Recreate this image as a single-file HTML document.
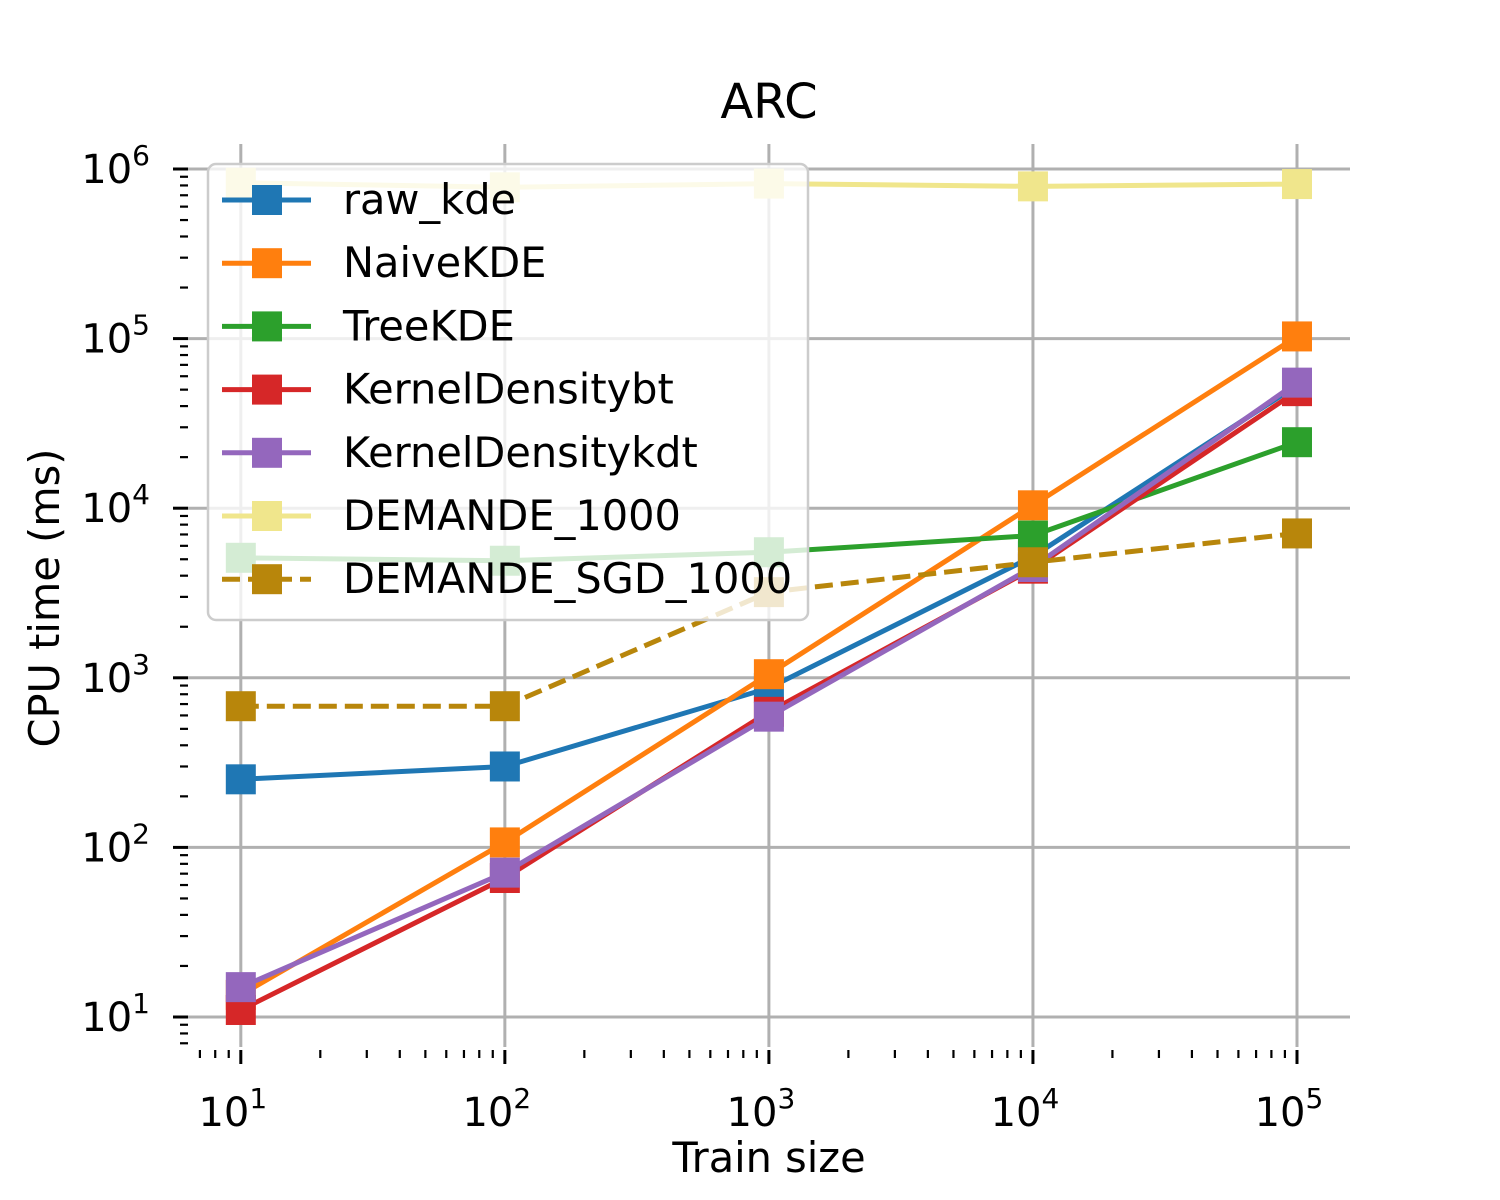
<!DOCTYPE html>
<html><head><meta charset="utf-8">
<style>
html,body{margin:0;padding:0;background:#fff;}
svg{display:block;font-family:"DejaVu Sans","Liberation Sans",sans-serif;}
</style></head>
<body>
<svg id="chart" width="1500" height="1200" viewBox="0 0 1500 1200" xmlns="http://www.w3.org/2000/svg">
<rect width="1500" height="1200" fill="#fff"/>
<text x="769" y="118" font-size="48" text-anchor="middle">ARC</text>
<g id="grid"></g>
<g id="ticks"></g>
<g id="series"></g>
<g id="legend"></g>
<text x="769" y="1172" font-size="41.5" text-anchor="middle">Train size</text>
<text transform="translate(59,598) rotate(-90)" font-size="41.5" text-anchor="middle">CPU time (ms)</text>
</svg>
<script>
const trainSizes = [10, 100, 1000, 10000, 100000];
const seriesNames = ["raw_kde","NaiveKDE","TreeKDE","KernelDensitybt","KernelDensitykdt","DEMANDE_1000","DEMANDE_SGD_1000"];
const rawKde = [252, 300, 870, 5200, 53000];
const naiveKde = [13.5, 107, 1050, 10400, 103000];
const treeKde = [5100, 4900, 5500, 6900, 24500];
const kdBt = [11, 66, 630, 4400, 49000];
const kdKdt = [15, 71, 590, 4500, 55000];
const demande = [830000, 780000, 820000, 790000, 815000];
const demandeSgd = [680, 680, 3200, 4800, 7100];
const xTickExps = [1,2,3,4,5];
const yTickExps = [1,2,3,4,5,6];

const colors = ["#1f77b4","#ff7f0e","#2ca02c","#d62728","#9467bd","#f0e68c","#b8860b"];
const allData = [rawKde, naiveKde, treeKde, kdBt, kdKdt, demande, demandeSgd];
const dashed = [false,false,false,false,false,false,true];

const NS = "http://www.w3.org/2000/svg";
const X0 = 188, X1 = 1350, Y0 = 1047, Y1 = 144;
const xmin = 0.8, xmax = 1 + (X1-241)/264;
const ymin = 1 - (Y0-1017)/169.6, ymax = 6 + (169-Y1)/169.6;
function xs(v){ return X0 + (Math.log10(v)-xmin)/(xmax-xmin)*(X1-X0); }
function ys(v){ return Y0 - (Math.log10(v)-ymin)/(ymax-ymin)*(Y0-Y1); }
function mk(tag, attrs, parent){ const e = document.createElementNS(NS, tag); for (const k in attrs) e.setAttribute(k, attrs[k]); parent.appendChild(e); return e; }

const grid = document.getElementById('grid');
const ticks = document.getElementById('ticks');
xTickExps.forEach(p => {
  const x = xs(Math.pow(10,p));
  const g = mk('line',{x1:x,x2:x,y1:Y1,y2:Y0,stroke:'#b0b0b0','stroke-width':3},grid);
  
  
  mk('line',{x1:x,x2:x,y1:1050,y2:1064,stroke:'#000','stroke-width':3},ticks);
  const t = mk('text',{x:x-8,y:1126,'font-size':40,'text-anchor':'middle'},ticks);
  
  
  t.innerHTML = '10<tspan dy="-18" font-size="28">'+p+'</tspan>';
});
for (let p=0;p<6;p++) for (let m=2;m<10;m++){
  const v = m*Math.pow(10,p); const lv=Math.log10(v);
  if (lv<xmin||lv>xmax) continue;
  const x = xs(v);
  mk('line',{x1:x,x2:x,y1:1050,y2:1058,stroke:'#000','stroke-width':2.2},ticks);
}
yTickExps.forEach(p => {
  const y = ys(Math.pow(10,p));
  const g = mk('line',{x1:X0,x2:X1,y1:y,y2:y,stroke:'#b0b0b0','stroke-width':3},grid);
  
  
  mk('line',{x1:173,x2:188,y1:y,y2:y,stroke:'#000','stroke-width':3},ticks);
  const t = mk('text',{x:150,y:y+14,'font-size':40,'text-anchor':'end'},ticks);
  
  
  t.innerHTML = '10<tspan dy="-18" font-size="28">'+p+'</tspan>';
});
for (let p=0;p<7;p++) for (let m=2;m<10;m++){
  const v = m*Math.pow(10,p); const lv=Math.log10(v);
  if (lv<ymin||lv>ymax) continue;
  const y = ys(v);
  mk('line',{x1:180,x2:188,y1:y,y2:y,stroke:'#000','stroke-width':2.2},ticks);
}

const series = document.getElementById('series');
allData.forEach((d,i) => {
  const g = mk('g',{},series);
  
  
  const pts = d.map((v,j)=>xs(trainSizes[j])+','+ys(v)).join(' ');
  const attrs = {points:pts,fill:'none',stroke:colors[i],'stroke-width':5,'stroke-linejoin':'round'};
  if (dashed[i]) attrs['stroke-dasharray']='18,8';
  mk('polyline',attrs,g);
  d.forEach((v,j)=>{
    const r = mk('rect',{x:xs(trainSizes[j])-15,y:ys(v)-15,width:30,height:30,fill:colors[i]},g);
    
    
  });
});

const legend = document.getElementById('legend');
const lb = mk('rect',{x:208,y:164,width:600,height:456,rx:8,fill:'rgba(255,255,255,0.8)',stroke:'#cccccc','stroke-width':2.5},legend);


seriesNames.forEach((n,i)=>{
  const y = 200 + i*63.2;
  const g = mk('g',{},legend);
  
  
  const la = {x1:222,x2:311,y1:y,y2:y,stroke:colors[i],'stroke-width':5};
  if (dashed[i]) la['stroke-dasharray']='18,8';
  mk('line',la,g);
  mk('rect',{x:252,y:y-15,width:30,height:30,fill:colors[i]},g);
  const t = mk('text',{x:343,y:y+14,'font-size':41.5},g);
  t.textContent = n;
});
</script>
</body></html>
